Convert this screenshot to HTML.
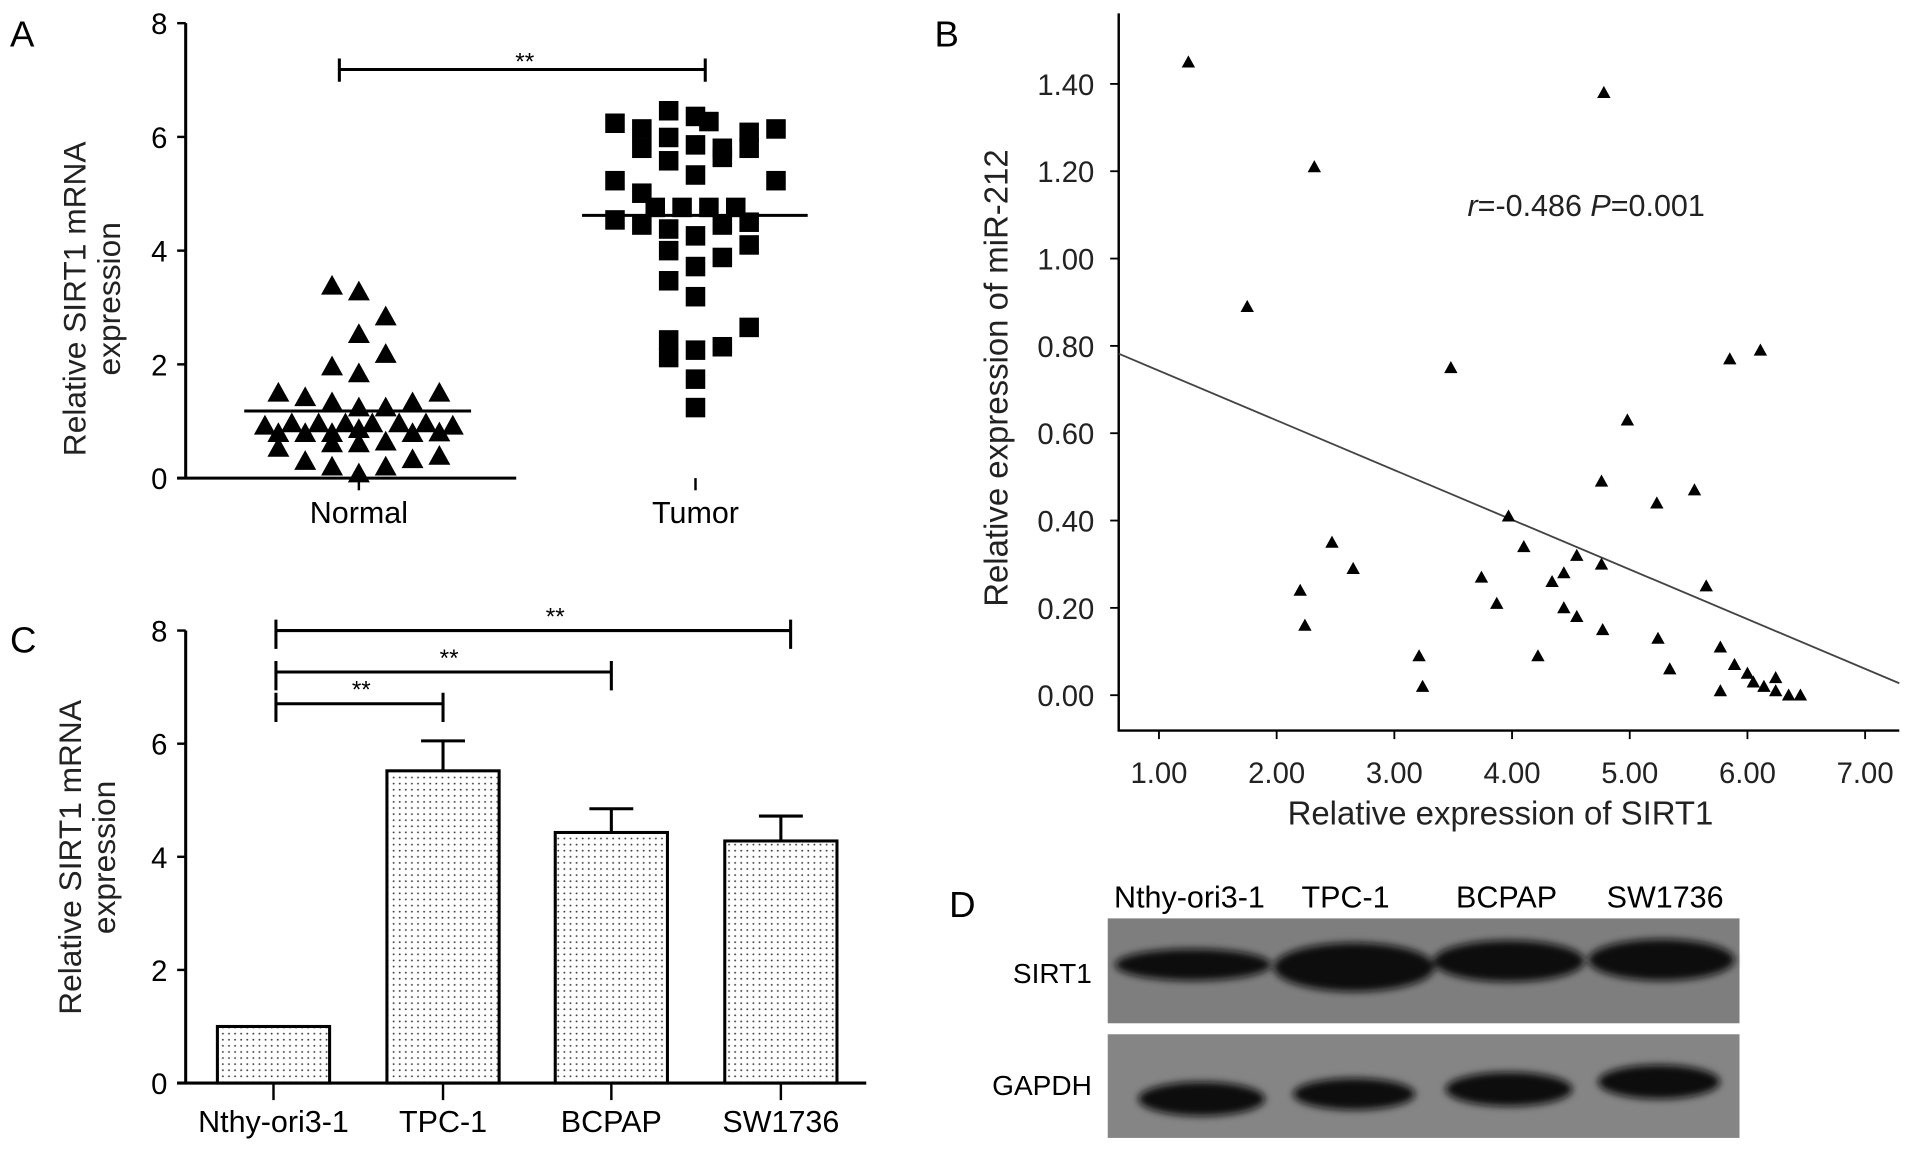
<!DOCTYPE html>
<html><head><meta charset="utf-8">
<style>
html,body{margin:0;padding:0;background:#fff;}
svg{display:block;font-family:"Liberation Sans",Arial,sans-serif;}
</style></head>
<body>
<svg id="fig" width="1913" height="1155" viewBox="0 0 1568 947" xmlns="http://www.w3.org/2000/svg">
<defs>
<pattern id="dots" width="5" height="5" patternUnits="userSpaceOnUse">
<rect width="5" height="5" fill="#fff"/><circle cx="2.5" cy="2.5" r="0.8" fill="#444"/>
</pattern>
<filter id="blur"><feGaussianBlur stdDeviation="3"/></filter>
</defs>
<g id="pA"></g>
<g id="pB"></g>
<g id="pC"></g>
<g id="pD">
<text x="778" y="752" font-size="30">D</text>
<text x="975" y="744" font-size="25" text-anchor="middle">Nthy-ori3-1</text>
<text x="1103" y="744" font-size="25" text-anchor="middle">TPC-1</text>
<text x="1235" y="744" font-size="25" text-anchor="middle">BCPAP</text>
<text x="1365" y="744" font-size="25" text-anchor="middle">SW1736</text>
<text x="895" y="806" font-size="23" text-anchor="end">SIRT1</text>
<text x="895" y="898" font-size="23" text-anchor="end">GAPDH</text>
<rect x="908" y="753" width="518" height="86" fill="#7e7e7e"/>
<rect x="908" y="848" width="518" height="85" fill="#858585"/>
<g filter="url(#blur)" fill="#111">
<ellipse cx="978" cy="791" rx="64" ry="13"/>
<ellipse cx="1110" cy="793" rx="66" ry="20"/>
<ellipse cx="1237" cy="788" rx="62" ry="17"/>
<ellipse cx="1362" cy="787" rx="60" ry="17"/>
<ellipse cx="985" cy="901" rx="52" ry="14"/>
<ellipse cx="1110" cy="897" rx="50" ry="13"/>
<ellipse cx="1237" cy="893" rx="52" ry="14"/>
<ellipse cx="1360" cy="887" rx="50" ry="14"/>
</g>
</g>
</svg>
<script>
// ---------- Panel A data ----------
const aCategories = ["Normal","Tumor"];
const aYTicks = [0,2,4,6,8];
const normalValues = [3.38,3.28,2.84,2.53,2.18,1.96,1.84,1.50,1.42,1.50,1.33,1.33,1.24,1.24,0.92,0.96,0.96,0.96,0.96,0.96,0.96,0.92,0.79,0.79,0.79,0.86,0.79,0.80,0.53,0.61,0.61,0.64,0.30,0.20,0.08,0.20,0.33,0.39];
const normalJitter = [-1,0,1,0,1,-1,0,-3,-2,3,-1,2,0,1,-3.5,-2.5,-1.5,-0.5,0.5,1.5,2.5,3.5,-3,-2,-1,0,2,3,-3,-1,0,1,-2,-1,0,1,2,3];
const normalMean = 1.18;
const tumorValues = [6.24,6.14,6.46,6.36,6.27,6.08,6.14,5.80,5.99,5.86,5.80,5.80,5.64,5.58,5.33,5.23,5.23,5.01,4.76,4.76,4.76,4.76,4.54,4.45,4.38,4.26,4.45,4.50,4.10,4.00,3.88,3.72,3.47,3.19,2.65,2.43,2.12,2.25,2.31,1.74,1.24];
const tumorJitter = [-3,-2,-1,0,0.5,2,3,-2,-1,0,1,2,1,-1,0,-3,3,-2,-1.5,-0.5,0.5,1.5,-3,-2,-1,0,1,2,2,-1,1,0,-1,0,2,-1,-1,0,1,0,0];
const tumorMean = 4.62;
// ---------- Panel B data ----------
const bXTicks = [1,2,3,4,5,6,7];
const bYTicks = [0,0.2,0.4,0.6,0.8,1.0,1.2,1.4];
const bX = [1.25,4.78,2.32,1.75,3.48,5.85,6.11,4.98,4.76,5.23,5.55,3.97,2.47,2.65,4.10,4.55,4.76,4.44,4.34,3.74,5.65,2.20,3.87,4.44,4.55,2.24,4.77,5.24,5.77,3.21,4.22,5.89,5.34,6.00,6.24,6.05,6.14,3.24,5.77,6.24,6.35,6.45];
const bY = [1.45,1.38,1.21,0.89,0.75,0.77,0.79,0.63,0.49,0.44,0.47,0.41,0.35,0.29,0.34,0.32,0.30,0.28,0.26,0.27,0.25,0.24,0.21,0.20,0.18,0.16,0.15,0.13,0.11,0.09,0.09,0.07,0.06,0.05,0.04,0.03,0.02,0.02,0.01,0.01,0.00,0.00];
const bSlope = -0.1138;
const bIntercept = 0.857;
// ---------- Panel C data ----------
const cCategories = ["Nthy-ori3-1","TPC-1","BCPAP","SW1736"];
const cValues = [1.0,5.52,4.43,4.28];
const cErrors = [0,0.53,0.42,0.44];
const cYTicks = [0,2,4,6,8];

const NS = "http://www.w3.org/2000/svg";
function mk(parent, tag, attrs, text){
  const e = document.createElementNS(NS, tag);
  for (const k in attrs) e.setAttribute(k, attrs[k]);
  if (text !== undefined) e.textContent = text;
  parent.appendChild(e); return e;
}
function tri(cx, cy, s){ return `${cx},${cy-s} ${cx-s},${cy+s*0.8} ${cx+s},${cy+s*0.8}`; }

// ===== Panel A =====
(function(){
  const g = document.getElementById('pA');
  const y = v => 392 - v * (373/8);
  const xc = [294, 570];
  const t = mk(g,'text',{x:8,y:38,'font-size':30});
  t.textContent='A';
  
  
  const ax = mk(g,'path',{d:`M152,${y(8)} V392 M145,392 H423`,stroke:'#000','stroke-width':2.5,fill:'none'});
  
  
  aYTicks.forEach(v=>{
    mk(g,'line',{x1:145,x2:152,y1:y(v),y2:y(v),stroke:'#000','stroke-width':2});
    const l = mk(g,'text',{x:137,y:y(v)+9,'font-size':24,'text-anchor':'end'}, String(v));
    
    
  });
  aCategories.forEach((c,i)=>{
    mk(g,'line',{x1:xc[i],x2:xc[i],y1:392,y2:402,stroke:'#000','stroke-width':2});
    const l = mk(g,'text',{x:xc[i],y:429,'font-size':25,'text-anchor':'middle'}, c);
    
    
  });
  const yt = mk(g,'text',{transform:'translate(70,245) rotate(-90)','font-size':26,'text-anchor':'middle',fill:'#222'});
  mk(yt,'tspan',{x:0,dy:0},'Relative SIRT1 mRNA');
  mk(yt,'tspan',{x:0,dy:28},'expression');
  
  
  const s = mk(g,'path',{d:'M278,48 V67 M278,57 H578 M578,48 V67',stroke:'#000','stroke-width':2.5,fill:'none'});
  
  
  mk(g,'text',{x:430,y:57,'font-size':20,'text-anchor':'middle'},'**');
  normalValues.forEach((v,i)=>{
    const p = mk(g,'polygon',{points:tri(xc[0]+normalJitter[i]*22, y(v), 9), fill:'#000'});
    
    
  });
  tumorValues.forEach((v,i)=>{
    const p = mk(g,'rect',{x:xc[1]+tumorJitter[i]*22-8,y:y(v)-8,width:16,height:16,fill:'#000'});
    
    
  });
  const m1 = mk(g,'line',{x1:200,x2:386,y1:y(normalMean),y2:y(normalMean),stroke:'#000','stroke-width':2.5});
  
  
  const m2 = mk(g,'line',{x1:477,x2:662,y1:y(tumorMean),y2:y(tumorMean),stroke:'#000','stroke-width':2.5});
  
  
})();

// ===== Panel B =====
(function(){
  const g = document.getElementById('pB');
  const x = v => 950 + (v-1)*96.5;
  const y = v => 570 - v*358;
  const t = mk(g,'text',{x:766,y:38,'font-size':30},'B');
  
  
  const ax = mk(g,'path',{d:'M917,11 V599 H1557',stroke:'#000','stroke-width':2,fill:'none'});
  
  
  bYTicks.forEach(v=>{
    mk(g,'line',{x1:910,x2:917,y1:y(v),y2:y(v),stroke:'#000','stroke-width':1.5});
    const l = mk(g,'text',{x:897,y:y(v)+9,'font-size':24,'text-anchor':'end',fill:'#222'}, v.toFixed(2));
    
    
  });
  bXTicks.forEach(v=>{
    mk(g,'line',{x1:x(v),x2:x(v),y1:599,y2:606,stroke:'#000','stroke-width':1.5});
    const l = mk(g,'text',{x:x(v),y:642,'font-size':24,'text-anchor':'middle',fill:'#222'}, v.toFixed(2));
    
    
  });
  const xt = mk(g,'text',{x:1230,y:676,'font-size':27,'text-anchor':'middle',fill:'#222'},'Relative expression of SIRT1');
  
  
  const yt = mk(g,'text',{transform:'translate(826,310) rotate(-90)','font-size':27,'text-anchor':'middle',fill:'#222'},'Relative expression of miR-212');
  
  
  const an = mk(g,'text',{x:1203,y:177,'font-size':25,fill:'#222'});
  mk(an,'tspan',{'font-style':'italic'},'r');
  mk(an,'tspan',{},'=-0.486 ');
  mk(an,'tspan',{'font-style':'italic'},'P');
  mk(an,'tspan',{},'=0.001');
  
  
  const x0 = 1 + (917-950)/96.5, x1 = 1 + (1557-950)/96.5;
  const rl = mk(g,'line',{x1:x(x0),y1:y(bIntercept+bSlope*x0),x2:x(x1),y2:y(bIntercept+bSlope*x1),stroke:'#444','stroke-width':1.5});
  
  
  bX.forEach((v,i)=>{
    const p = mk(g,'polygon',{points:tri(x(v), y(bY[i]), 5.5), fill:'#000'});
    
    
  });
})();

// ===== Panel C =====
(function(){
  const g = document.getElementById('pC');
  const y = v => 888 - v*(371/8);
  const xc = [224,363,501,640];
  const t = mk(g,'text',{x:8,y:535,'font-size':30},'C');
  
  
  cCategories.forEach((c,i)=>{
    const top = y(cValues[i]+cErrors[i]);
    if (cErrors[i]>0){
      const e = mk(g,'path',{d:`M${xc[i]},${y(cValues[i])} V${top} M${xc[i]-18},${top} H${xc[i]+18}`,stroke:'#000','stroke-width':2.5,fill:'none'});
      
      
    }
    const b = mk(g,'rect',{x:xc[i]-46,y:y(cValues[i]),width:92,height:888-y(cValues[i]),fill:'url(#dots)',stroke:'#000','stroke-width':2.5});
    
    
    mk(g,'line',{x1:xc[i],x2:xc[i],y1:888,y2:902,stroke:'#000','stroke-width':2});
    const l = mk(g,'text',{x:xc[i],y:928,'font-size':25,'text-anchor':'middle'}, c);
    
    
  });
  const ax = mk(g,'path',{d:`M152,${y(8)} V888 M145,888 H710`,stroke:'#000','stroke-width':2.5,fill:'none'});
  
  
  cYTicks.forEach(v=>{
    mk(g,'line',{x1:145,x2:152,y1:y(v),y2:y(v),stroke:'#000','stroke-width':2});
    const l = mk(g,'text',{x:137,y:y(v)+9,'font-size':24,'text-anchor':'end'}, String(v));
    
    
  });
  const yt = mk(g,'text',{transform:'translate(66,703) rotate(-90)','font-size':26,'text-anchor':'middle',fill:'#222'});
  mk(yt,'tspan',{x:0,dy:0},'Relative SIRT1 mRNA');
  mk(yt,'tspan',{x:0,dy:28},'expression');
  
  
  const sig = [[1,577,296],[2,551,368],[3,517,455]];
  sig.forEach(s=>{
    const p = mk(g,'path',{d:`M226,${s[1]-9} V${s[1]+15} M226,${s[1]} H${xc[s[0]]+(s[0]===3?8:0)} M${xc[s[0]]+(s[0]===3?8:0)},${s[1]-9} V${s[1]+15}`,stroke:'#000','stroke-width':2.5,fill:'none'});
    
    
    mk(g,'text',{x:s[2],y:s[1]-5,'font-size':20,'text-anchor':'middle'},'**');
  });
})();
</script>
</body></html>
